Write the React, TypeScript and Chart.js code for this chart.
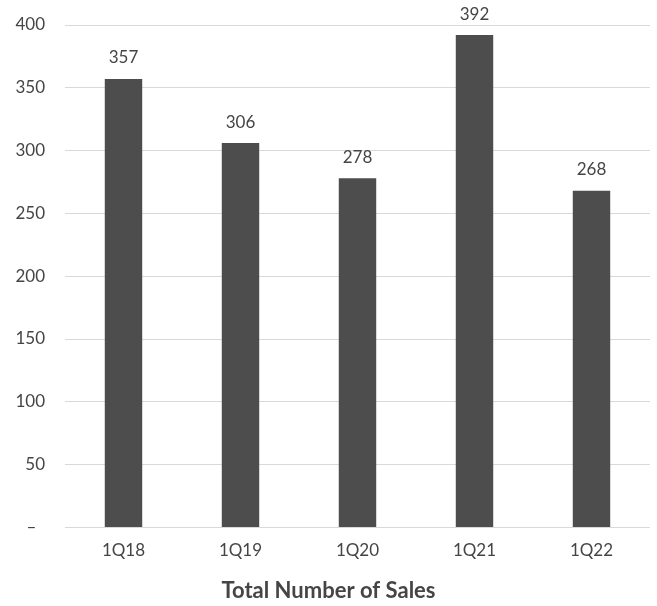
import React, { useEffect, useRef } from "react";
import { Chart, registerables } from "chart.js";

Chart.register(...registerables);

const categories = ["1Q18", "1Q19", "1Q20", "1Q21", "1Q22"];
const sales = [357, 306, 278, 392, 268];
const yTicks = [0, 50, 100, 150, 200, 250, 300, 350, 400];
const chartTitle = "Total Number of Sales";

const FONT = "Lato, 'Open Sans', sans-serif";
const TEXT = "#454545";

const valueLabels = {
  id: "valueLabels",
  afterDatasetsDraw(chart: any) {
    const ctx = chart.ctx;
    const meta = chart.getDatasetMeta(0);
    ctx.save();
    ctx.font = `17px ${FONT}`;
    ctx.fillStyle = TEXT;
    ctx.textAlign = "center";
    ctx.textBaseline = "middle";
    meta.data.forEach((bar: any, i: number) => {
      ctx.fillText(String(sales[i]), bar.x, bar.y - 21);
    });
    // centered axis title
    ctx.font = `bold 22px ${FONT}`;
    ctx.fillText(chartTitle, chart.width / 2, chart.height - 15);
    ctx.restore();
  },
};

export default function App() {
  const ref = useRef<HTMLCanvasElement>(null);
  useEffect(() => {
    if (!ref.current) return;
    const chart = new Chart(ref.current, {
      type: "bar",
      data: {
        labels: categories,
        datasets: [
          {
            data: sales,
            backgroundColor: "#4d4d4d",
            barPercentage: 0.64,
            categoryPercentage: 0.5,
          },
        ],
      },
      options: {
        animation: false,
        responsive: true,
        maintainAspectRatio: false,
        layout: { padding: { top: 25, right: 7, left: 0, bottom: 0 } },
        plugins: {
          legend: { display: false },
          tooltip: { enabled: false },
        },
        scales: {
          x: {
            grid: { display: false, drawTicks: false },
            border: { display: false },
            ticks: { color: TEXT, font: { family: FONT, size: 17 }, padding: 13 },
            title: {
              display: true,
              text: chartTitle,
              color: "rgba(0,0,0,0)",
              font: { family: FONT, size: 21, weight: "bold" },
              padding: { top: 7, bottom: 0 },
            },
          },
          y: {
            min: 0,
            max: 400,
            afterBuildTicks(axis: any) {
              axis.ticks = yTicks.map((v) => ({ value: v }));
            },
            afterFit(axis: any) {
              axis.width = 65;
              axis.paddingTop = 0;
              axis.paddingBottom = 0;
            },
            grid: { color: "#d9d9d9", lineWidth: 1, drawTicks: false },
            border: { display: false },
            ticks: {
              color: TEXT,
              font: { family: FONT, size: 17 },
              padding: 20,
              callback: (v: any) => (Number(v) === 0 ? "–  " : String(v)),
            },
          },
        },
      },
      plugins: [valueLabels],
    });
    return () => chart.destroy();
  }, []);
  return (
    <div style={{ position: "fixed", left: 0, top: 0, width: 657, height: 606, background: "#fff" }}>
      <canvas ref={ref} />
    </div>
  );
}
